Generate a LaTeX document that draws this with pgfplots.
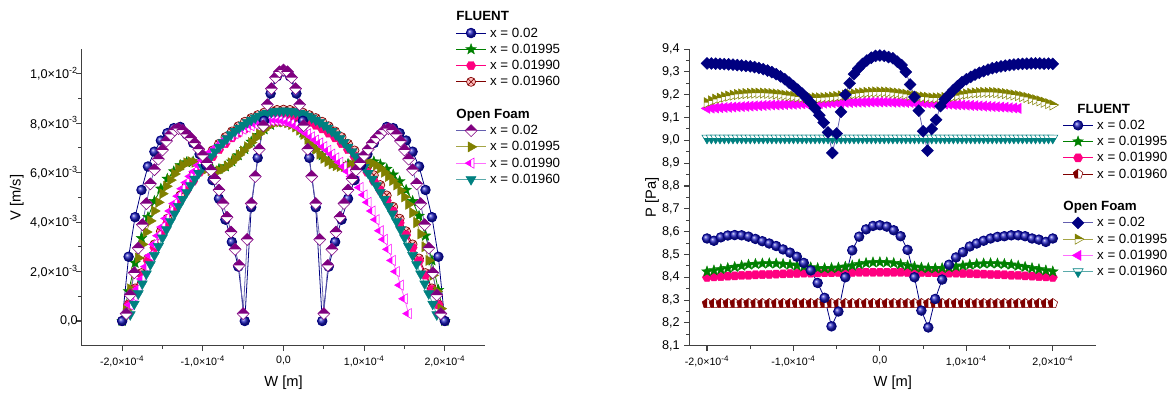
\documentclass[border=0pt]{standalone}
\usepackage{fontspec}
\setmainfont{Liberation Sans}
\usepackage{pgfplots}
\pgfplotsset{compat=1.18}
\usepackage{pgfplotstable}
\usetikzlibrary{plotmarks}

\definecolor{fnavy}{RGB}{0,0,128}
\definecolor{fball}{RGB}{30,30,190}
\definecolor{fgreen}{RGB}{0,128,0}
\definecolor{fpink}{RGB}{255,0,128}
\definecolor{fdred}{RGB}{128,0,0}
\definecolor{ofpurple}{RGB}{128,0,128}
\definecolor{ofline}{RGB}{100,95,175}
\definecolor{ofolive}{RGB}{128,128,0}
\definecolor{oliveline}{RGB}{165,165,70}
\definecolor{ofmag}{RGB}{255,0,255}
\definecolor{magline}{RGB}{255,110,255}
\definecolor{ofteal}{RGB}{0,128,128}
\definecolor{tealline}{RGB}{90,170,170}

% ---------- marks ----------
\pgfdeclareplotmark{fstar}{%
 \pgfpathmoveto{\pgfpointpolar{90}{\pgfplotmarksize}}%
 \pgfpathlineto{\pgfpointpolar{126}{0.42\pgfplotmarksize}}%
 \pgfpathlineto{\pgfpointpolar{162}{\pgfplotmarksize}}%
 \pgfpathlineto{\pgfpointpolar{198}{0.42\pgfplotmarksize}}%
 \pgfpathlineto{\pgfpointpolar{234}{\pgfplotmarksize}}%
 \pgfpathlineto{\pgfpointpolar{270}{0.42\pgfplotmarksize}}%
 \pgfpathlineto{\pgfpointpolar{306}{\pgfplotmarksize}}%
 \pgfpathlineto{\pgfpointpolar{342}{0.42\pgfplotmarksize}}%
 \pgfpathlineto{\pgfpointpolar{18}{\pgfplotmarksize}}%
 \pgfpathlineto{\pgfpointpolar{54}{0.42\pgfplotmarksize}}%
 \pgfpathclose\pgfusepathqfillstroke}
\pgfdeclareplotmark{hexa}{%
 \pgfpathmoveto{\pgfpointpolar{0}{\pgfplotmarksize}}%
 \pgfpathlineto{\pgfpointpolar{60}{\pgfplotmarksize}}%
 \pgfpathlineto{\pgfpointpolar{120}{\pgfplotmarksize}}%
 \pgfpathlineto{\pgfpointpolar{180}{\pgfplotmarksize}}%
 \pgfpathlineto{\pgfpointpolar{240}{\pgfplotmarksize}}%
 \pgfpathlineto{\pgfpointpolar{300}{\pgfplotmarksize}}%
 \pgfpathclose\pgfusepathqfillstroke}
\pgfdeclareplotmark{fdiam}{%
 \pgfpathmoveto{\pgfpoint{0pt}{\pgfplotmarksize}}%
 \pgfpathlineto{\pgfpoint{\pgfplotmarksize}{0pt}}%
 \pgfpathlineto{\pgfpoint{0pt}{-\pgfplotmarksize}}%
 \pgfpathlineto{\pgfpoint{-\pgfplotmarksize}{0pt}}%
 \pgfpathclose\pgfusepathqfillstroke}
\pgfdeclareplotmark{hdiamP}{%
 \pgfpathmoveto{\pgfpoint{0pt}{\pgfplotmarksize}}%
 \pgfpathlineto{\pgfpoint{\pgfplotmarksize}{0pt}}%
 \pgfpathlineto{\pgfpoint{0pt}{-\pgfplotmarksize}}%
 \pgfpathlineto{\pgfpoint{-\pgfplotmarksize}{0pt}}%
 \pgfpathclose\pgfsetfillcolor{white}\pgfusepath{fill}%
 \pgfpathmoveto{\pgfpoint{0pt}{\pgfplotmarksize}}%
 \pgfpathlineto{\pgfpoint{\pgfplotmarksize}{0pt}}%
 \pgfpathlineto{\pgfpoint{-\pgfplotmarksize}{0pt}}%
 \pgfpathclose\pgfsetfillcolor{ofpurple}\pgfusepath{fill}%
 \pgfpathmoveto{\pgfpoint{0pt}{\pgfplotmarksize}}%
 \pgfpathlineto{\pgfpoint{\pgfplotmarksize}{0pt}}%
 \pgfpathlineto{\pgfpoint{0pt}{-\pgfplotmarksize}}%
 \pgfpathlineto{\pgfpoint{-\pgfplotmarksize}{0pt}}%
 \pgfpathclose\pgfusepath{stroke}}
\pgfdeclareplotmark{triR}{%
 \pgfpathmoveto{\pgfpointpolar{0}{\pgfplotmarksize}}%
 \pgfpathlineto{\pgfpointpolar{120}{\pgfplotmarksize}}%
 \pgfpathlineto{\pgfpointpolar{240}{\pgfplotmarksize}}%
 \pgfpathclose\pgfusepathqfillstroke}
\pgfdeclareplotmark{triL}{%
 \pgfpathmoveto{\pgfpointpolar{180}{\pgfplotmarksize}}%
 \pgfpathlineto{\pgfpointpolar{300}{\pgfplotmarksize}}%
 \pgfpathlineto{\pgfpointpolar{60}{\pgfplotmarksize}}%
 \pgfpathclose\pgfusepathqfillstroke}
\pgfdeclareplotmark{triD}{%
 \pgfpathmoveto{\pgfpointpolar{270}{\pgfplotmarksize}}%
 \pgfpathlineto{\pgfpointpolar{30}{\pgfplotmarksize}}%
 \pgfpathlineto{\pgfpointpolar{150}{\pgfplotmarksize}}%
 \pgfpathclose\pgfusepathqfillstroke}
\pgfdeclareplotmark{htriR}{%
 \pgfpathmoveto{\pgfpointpolar{0}{\pgfplotmarksize}}%
 \pgfpathlineto{\pgfpointpolar{120}{\pgfplotmarksize}}%
 \pgfpathlineto{\pgfpointpolar{240}{\pgfplotmarksize}}%
 \pgfpathclose\pgfsetfillcolor{white}\pgfusepath{fill}%
 \pgfpathmoveto{\pgfpointpolar{0}{\pgfplotmarksize}}%
 \pgfpathlineto{\pgfpointpolar{120}{\pgfplotmarksize}}%
 \pgfpathlineto{\pgfpoint{-0.5\pgfplotmarksize}{0pt}}%
 \pgfpathclose\pgfsetfillcolor{ofolive}\pgfusepath{fill}%
 \pgfpathmoveto{\pgfpointpolar{0}{\pgfplotmarksize}}%
 \pgfpathlineto{\pgfpointpolar{120}{\pgfplotmarksize}}%
 \pgfpathlineto{\pgfpointpolar{240}{\pgfplotmarksize}}%
 \pgfpathclose\pgfusepath{stroke}}
\pgfdeclareplotmark{htriL}{%
 \pgfpathmoveto{\pgfpointpolar{180}{\pgfplotmarksize}}%
 \pgfpathlineto{\pgfpointpolar{300}{\pgfplotmarksize}}%
 \pgfpathlineto{\pgfpointpolar{60}{\pgfplotmarksize}}%
 \pgfpathclose\pgfsetfillcolor{white}\pgfusepath{fill}%
 \pgfpathmoveto{\pgfpointpolar{180}{\pgfplotmarksize}}%
 \pgfpathlineto{\pgfpoint{0pt}{-0.577\pgfplotmarksize}}%
 \pgfpathlineto{\pgfpoint{0pt}{0.577\pgfplotmarksize}}%
 \pgfpathclose\pgfsetfillcolor{ofmag}\pgfusepath{fill}%
 \pgfpathmoveto{\pgfpointpolar{180}{\pgfplotmarksize}}%
 \pgfpathlineto{\pgfpointpolar{300}{\pgfplotmarksize}}%
 \pgfpathlineto{\pgfpointpolar{60}{\pgfplotmarksize}}%
 \pgfpathclose\pgfusepath{stroke}}
\pgfdeclareplotmark{htriD}{%
 \pgfpathmoveto{\pgfpointpolar{270}{\pgfplotmarksize}}%
 \pgfpathlineto{\pgfpointpolar{30}{\pgfplotmarksize}}%
 \pgfpathlineto{\pgfpointpolar{150}{\pgfplotmarksize}}%
 \pgfpathclose\pgfsetfillcolor{white}\pgfusepath{fill}%
 \pgfpathmoveto{\pgfpointpolar{270}{\pgfplotmarksize}}%
 \pgfpathlineto{\pgfpoint{0.577\pgfplotmarksize}{0pt}}%
 \pgfpathlineto{\pgfpoint{-0.577\pgfplotmarksize}{0pt}}%
 \pgfpathclose\pgfsetfillcolor{ofteal}\pgfusepath{fill}%
 \pgfpathmoveto{\pgfpointpolar{270}{\pgfplotmarksize}}%
 \pgfpathlineto{\pgfpointpolar{30}{\pgfplotmarksize}}%
 \pgfpathlineto{\pgfpointpolar{150}{\pgfplotmarksize}}%
 \pgfpathclose\pgfusepath{stroke}}
\pgfdeclareplotmark{hpent}{%
 \pgfpathmoveto{\pgfpointpolar{90}{\pgfplotmarksize}}%
 \pgfpathlineto{\pgfpointpolar{162}{\pgfplotmarksize}}%
 \pgfpathlineto{\pgfpointpolar{234}{\pgfplotmarksize}}%
 \pgfpathlineto{\pgfpointpolar{306}{\pgfplotmarksize}}%
 \pgfpathlineto{\pgfpointpolar{18}{\pgfplotmarksize}}%
 \pgfpathclose\pgfsetfillcolor{white}\pgfusepath{fill}%
 \pgfpathmoveto{\pgfpointpolar{90}{\pgfplotmarksize}}%
 \pgfpathlineto{\pgfpointpolar{162}{\pgfplotmarksize}}%
 \pgfpathlineto{\pgfpointpolar{234}{\pgfplotmarksize}}%
 \pgfpathlineto{\pgfpoint{0pt}{-0.809\pgfplotmarksize}}%
 \pgfpathclose\pgfsetfillcolor{fdred}\pgfusepath{fill}%
 \pgfpathmoveto{\pgfpointpolar{90}{\pgfplotmarksize}}%
 \pgfpathlineto{\pgfpointpolar{162}{\pgfplotmarksize}}%
 \pgfpathlineto{\pgfpointpolar{234}{\pgfplotmarksize}}%
 \pgfpathlineto{\pgfpointpolar{306}{\pgfplotmarksize}}%
 \pgfpathlineto{\pgfpointpolar{18}{\pgfplotmarksize}}%
 \pgfpathclose\pgfusepath{stroke}}

\newcommand{\sci}[2]{#1×10\textsuperscript{#2}}

% ---------- data: W in 1e-4 m, V in 1e-3 m/s, P in Pa ----------
\pgfplotstableread{
W f02 f995 f990 f960
-2.00 0.0 0.0 0.0 0.0
-1.92 2.6 1.2 0.65 0.67
-1.84 4.2 2.35 1.27 1.32
-1.76 5.3 3.35 1.86 1.94
-1.68 6.25 4.2 2.43 2.53
-1.60 6.85 4.85 2.97 3.10
-1.52 7.3 5.35 3.48 3.63
-1.44 7.6 5.75 3.97 4.14
-1.36 7.8 6.05 4.44 4.62
-1.28 7.85 6.3 4.87 5.08
-1.20 7.55 6.42 5.28 5.50
-1.12 7.2 6.45 5.66 5.90
-1.04 6.75 6.38 6.02 6.26
-0.96 6.3 6.25 6.35 6.59
-0.88 5.7 6.15 6.65 6.90
-0.80 4.95 6.15 6.93 7.17
-0.72 4.1 6.25 7.18 7.44
-0.64 3.2 6.45 7.41 7.67
-0.56 2.2 6.7 7.60 7.88
-0.48 0.0 6.95 7.77 8.06
-0.40 4.6 7.25 7.92 8.21
-0.32 6.6 7.52 8.04 8.33
-0.24 8.1 7.75 8.13 8.43
-0.16 9.2 7.93 8.20 8.50
-0.08 9.9 8.04 8.24 8.54
0.00 10.1 8.07 8.25 8.55
0.08 9.9 8.03 8.24 8.54
0.16 9.2 7.88 8.20 8.50
0.24 8.1 7.62 8.13 8.43
0.32 6.6 7.3 8.04 8.33
0.40 4.6 6.98 7.92 8.21
0.48 0.0 6.7 7.77 8.06
0.56 2.2 6.5 7.60 7.88
0.64 3.2 6.38 7.41 7.67
0.72 4.1 6.32 7.18 7.44
0.80 4.95 6.35 6.93 7.17
0.88 5.7 6.4 6.65 6.90
0.96 6.3 6.45 6.35 6.59
1.04 6.75 6.48 6.02 6.26
1.12 7.2 6.45 5.66 5.90
1.20 7.55 6.33 5.28 5.50
1.28 7.85 6.15 4.87 5.08
1.36 7.8 5.92 4.44 4.62
1.44 7.6 5.65 3.97 4.14
1.52 7.3 5.3 3.48 3.63
1.60 6.85 4.85 2.97 3.10
1.68 6.25 4.25 2.43 2.53
1.76 5.3 3.45 1.86 1.94
1.84 4.2 2.45 1.27 1.32
1.92 2.6 1.25 0.65 0.67
2.00 0.0 0.0 0.0 0.0
}\flV

\pgfplotstableread{
W o02 o995 o990 o960
-2.00 nan nan nan nan
-1.95 0.3 0.45 0.3 nan
-1.90 1.05 1.3 0.65 0.26
-1.85 1.95 1.95 1.0 0.69
-1.80 2.95 2.55 1.3 1.11
-1.75 3.9 3.1 1.7 1.51
-1.70 4.75 3.6 2.2 1.91
-1.65 5.55 4.05 2.65 2.29
-1.60 6.12 4.45 3.1 2.66
-1.55 6.55 4.8 3.45 3.02
-1.50 6.92 5.15 3.8 3.37
-1.45 7.28 5.45 4.15 3.70
-1.40 7.55 5.7 4.45 4.03
-1.35 7.72 5.95 4.75 4.34
-1.30 7.78 6.15 5.05 4.64
-1.25 7.72 6.3 5.35 4.93
-1.20 7.55 6.4 5.6 5.21
-1.15 7.4 6.45 5.85 5.48
-1.10 7.2 6.42 6.05 5.74
-1.05 6.95 6.35 6.3 5.98
-1.00 6.7 6.25 6.5 6.22
-0.95 6.4 6.15 6.68 6.44
-0.90 6.1 6.08 6.83 6.65
-0.85 5.75 6.05 6.97 6.85
-0.80 5.3 6.08 7.1 7.04
-0.75 4.75 6.15 7.25 7.22
-0.70 4.2 6.27 7.37 7.38
-0.65 3.6 6.4 7.48 7.54
-0.60 2.9 6.55 7.58 7.68
-0.55 2.25 6.72 7.68 7.81
-0.50 0.3 6.88 7.76 7.93
-0.45 3.3 7.05 7.84 8.04
-0.40 4.75 7.22 7.9 8.13
-0.35 5.85 7.4 7.96 8.22
-0.30 6.95 7.57 8.01 8.29
-0.25 7.9 7.72 8.05 8.36
-0.20 8.75 7.85 8.08 8.41
-0.15 9.4 7.95 8.1 8.45
-0.10 9.85 8.02 8.11 8.48
-0.05 10.08 8.05 8.1 8.49
0.00 10.15 8.05 8.08 8.5
0.05 10.08 8.02 8.04 8.49
0.10 9.85 7.95 7.98 8.48
0.15 9.4 7.85 7.9 8.45
0.20 8.75 7.72 7.8 8.41
0.25 7.9 7.55 7.68 8.36
0.30 6.95 7.35 7.57 8.29
0.35 5.85 7.15 7.45 8.22
0.40 4.75 6.95 7.32 8.13
0.45 3.3 6.75 7.2 8.04
0.50 0.3 6.58 7.05 7.93
0.55 2.25 6.45 6.9 7.81
0.60 2.9 6.35 6.75 7.68
0.65 3.6 6.28 6.6 7.54
0.70 4.2 6.25 6.42 7.38
0.75 4.75 6.25 6.25 7.22
0.80 5.3 6.28 6.05 7.04
0.85 5.75 6.32 5.85 6.85
0.90 6.1 6.36 5.65 6.65
0.95 6.4 6.4 5.4 6.44
1.00 6.7 6.42 5.1 6.22
1.05 6.95 6.42 4.8 5.98
1.10 7.2 6.38 4.45 5.74
1.15 7.4 6.3 4.1 5.48
1.20 7.55 6.18 3.65 5.21
1.25 7.72 6.02 3.3 4.93
1.30 7.78 5.85 2.9 4.64
1.35 7.72 5.68 2.45 4.34
1.40 7.55 5.5 2.0 4.03
1.45 7.28 5.28 1.45 3.70
1.50 6.92 5.02 0.9 3.37
1.55 6.55 4.72 0.3 3.02
1.60 6.12 4.38 nan 2.66
1.65 5.55 3.98 nan 2.29
1.70 4.75 3.52 nan 1.91
1.75 3.9 3.0 nan 1.51
1.80 2.95 2.45 nan 1.11
1.85 1.95 1.85 nan 0.69
1.90 1.05 1.2 nan 0.26
1.95 0.3 0.5 nan nan
2.00 nan nan nan nan
}\ofV

\pgfplotstableread{
W f02 f995 f990 f960
-2.00 8.57 8.425 8.400 8.285
-1.92 8.56 8.430 8.402 8.285
-1.84 8.575 8.435 8.403 8.285
-1.76 8.583 8.440 8.405 8.285
-1.68 8.585 8.445 8.406 8.285
-1.60 8.584 8.450 8.408 8.285
-1.52 8.578 8.455 8.409 8.285
-1.44 8.568 8.458 8.411 8.285
-1.36 8.558 8.460 8.412 8.285
-1.28 8.548 8.461 8.413 8.285
-1.20 8.537 8.460 8.414 8.285
-1.12 8.522 8.458 8.415 8.285
-1.04 8.508 8.455 8.416 8.285
-0.96 8.49 8.451 8.417 8.285
-0.88 8.463 8.447 8.418 8.285
-0.80 8.43 8.443 8.418 8.285
-0.72 8.375 8.440 8.419 8.285
-0.64 8.31 8.439 8.420 8.285
-0.56 8.185 8.440 8.420 8.285
-0.48 8.25 8.442 8.421 8.285
-0.40 8.40 8.446 8.421 8.285
-0.32 8.518 8.451 8.421 8.285
-0.24 8.578 8.457 8.422 8.285
-0.16 8.61 8.462 8.422 8.285
-0.08 8.625 8.465 8.422 8.285
0.00 8.628 8.466 8.422 8.285
0.08 8.622 8.465 8.422 8.285
0.16 8.606 8.462 8.422 8.285
0.24 8.58 8.457 8.422 8.285
0.32 8.52 8.451 8.421 8.285
0.40 8.40 8.446 8.421 8.285
0.48 8.254 8.442 8.421 8.285
0.56 8.18 8.440 8.420 8.285
0.64 8.305 8.439 8.420 8.285
0.72 8.39 8.440 8.419 8.285
0.80 8.455 8.443 8.418 8.285
0.88 8.487 8.447 8.418 8.285
0.96 8.51 8.451 8.417 8.285
1.04 8.535 8.455 8.416 8.285
1.12 8.548 8.458 8.415 8.285
1.20 8.56 8.460 8.414 8.285
1.28 8.57 8.461 8.413 8.285
1.36 8.577 8.460 8.412 8.285
1.44 8.58 8.458 8.411 8.285
1.52 8.584 8.455 8.409 8.285
1.60 8.584 8.450 8.408 8.285
1.68 8.58 8.445 8.406 8.285
1.76 8.57 8.440 8.405 8.285
1.84 8.565 8.435 8.403 8.285
1.92 8.555 8.430 8.402 8.285
2.00 8.57 8.425 8.400 8.285
}\flP

\pgfplotstableread{
W o02 o995 o990 o960
-2.00 9.337 9.165 9.140 9.01
-1.95 9.337 9.173 9.141 9.01
-1.90 9.336 9.180 9.142 9.01
-1.85 9.335 9.185 9.143 9.01
-1.80 9.334 9.190 9.144 9.01
-1.75 9.333 9.194 9.145 9.01
-1.70 9.332 9.198 9.146 9.01
-1.65 9.330 9.201 9.147 9.01
-1.60 9.328 9.203 9.148 9.01
-1.55 9.326 9.205 9.149 9.01
-1.50 9.324 9.206 9.150 9.01
-1.45 9.321 9.207 9.151 9.01
-1.40 9.317 9.207 9.152 9.01
-1.35 9.312 9.207 9.153 9.01
-1.30 9.306 9.206 9.154 9.01
-1.25 9.299 9.205 9.155 9.01
-1.20 9.290 9.203 9.155 9.01
-1.15 9.280 9.201 9.156 9.01
-1.10 9.268 9.198 9.157 9.01
-1.05 9.253 9.196 9.158 9.01
-1.00 9.238 9.193 9.158 9.01
-0.95 9.222 9.191 9.159 9.01
-0.90 9.205 9.189 9.160 9.01
-0.85 9.186 9.187 9.160 9.01
-0.80 9.165 9.186 9.161 9.01
-0.75 9.140 9.186 9.162 9.01
-0.70 9.110 9.186 9.162 9.01
-0.65 9.078 9.187 9.163 9.01
-0.60 9.035 9.188 9.164 9.01
-0.55 8.945 9.190 9.164 9.01
-0.50 9.030 9.192 9.165 9.01
-0.45 9.125 9.195 9.165 9.01
-0.40 9.200 9.198 9.166 9.01
-0.35 9.250 9.201 9.166 9.01
-0.30 9.290 9.204 9.167 9.01
-0.25 9.315 9.206 9.167 9.01
-0.20 9.335 9.208 9.167 9.01
-0.15 9.350 9.210 9.168 9.01
-0.10 9.362 9.211 9.168 9.01
-0.05 9.370 9.212 9.168 9.01
0.00 9.372 9.212 9.168 9.01
0.05 9.370 9.212 9.168 9.01
0.10 9.365 9.211 9.168 9.01
0.15 9.360 9.209 9.167 9.01
0.20 9.345 9.207 9.167 9.01
0.25 9.330 9.205 9.167 9.01
0.30 9.300 9.202 9.166 9.01
0.35 9.245 9.198 9.166 9.01
0.40 9.190 9.195 9.165 9.01
0.45 9.130 9.192 9.165 9.01
0.50 9.040 9.190 9.164 9.01
0.55 8.955 9.188 9.163 9.01
0.60 9.050 9.186 9.162 9.01
0.65 9.090 9.186 9.161 9.01
0.70 9.150 9.186 9.160 9.01
0.75 9.180 9.188 9.159 9.01
0.80 9.200 9.190 9.158 9.01
0.85 9.220 9.193 9.157 9.01
0.90 9.238 9.196 9.156 9.01
0.95 9.255 9.200 9.155 9.01
1.00 9.268 9.203 9.154 9.01
1.05 9.278 9.206 9.153 9.01
1.10 9.288 9.208 9.152 9.01
1.15 9.296 9.209 9.151 9.01
1.20 9.303 9.210 9.150 9.01
1.25 9.310 9.210 9.149 9.01
1.30 9.316 9.210 9.148 9.01
1.35 9.320 9.209 9.147 9.01
1.40 9.324 9.207 9.146 9.01
1.45 9.327 9.205 9.145 9.01
1.50 9.330 9.202 9.143 9.01
1.55 9.332 9.199 9.142 9.01
1.60 9.334 9.196 9.140 9.01
1.65 9.335 9.192 nan 9.01
1.70 9.336 9.188 nan 9.01
1.75 9.337 9.183 nan 9.01
1.80 9.337 9.178 nan 9.01
1.85 9.337 9.173 nan 9.01
1.90 9.336 9.167 nan 9.01
1.95 9.336 9.161 nan 9.01
2.00 9.335 9.155 nan 9.01
}\ofP

\pgfplotsset{
  orig/.style={
    scale only axis, anchor=south west,
    axis x line*=bottom, axis y line*=left,
    axis line style={-, line width=0.9pt, black!75},
    tick align=outside, major tick length=4pt, minor tick length=2.5pt,
    tick style={line width=0.8pt, black!75},
    minor x tick num=1, minor y tick num=1,
    xticklabel style={font=\fontsize{8}{10}\selectfont},
    yticklabel style={font=\fontsize{9.5}{11}\selectfont},
    label style={font=\fontsize{11}{13}\selectfont},
    legend cell align=left,
    legend image code/.code={\draw[mark repeat=2,mark phase=2] plot coordinates {(0pt,0pt) (11pt,0pt) (22pt,0pt)};},
    legend style={draw=none, fill=none, inner sep=0pt, outer sep=0pt,
      row sep=2.2pt, column sep=3pt, font=\fontsize{10}{12}\selectfont,
      nodes={inner sep=0pt, text height=8pt, text depth=2pt}},
  },
  sFA/.style={color=fnavy, line width=0.6pt, mark=ball, mark size=3.6pt, mark options={ball color=fball}},
  sFB/.style={color=fgreen, line width=0.6pt, mark=fstar, mark size=4.2pt, mark options={fill=fgreen, draw=fgreen, line width=0.3pt}},
  sFC/.style={color=fpink, line width=0.6pt, mark=hexa, mark size=3.5pt, mark options={fill=fpink, draw=fpink, line width=0.3pt}},
  sFDl/.style={color=fdred, line width=0.6pt, mark=otimes*, mark size=3.4pt, mark options={fill=red!25, draw=fdred, line width=0.5pt}},
  sFDr/.style={color=fdred, line width=0.6pt, mark=hpent, mark size=3.8pt, mark options={draw=fdred, line width=0.4pt}},
  sOAl/.style={color=ofline, line width=0.6pt, mark=hdiamP, mark size=4.5pt, mark options={draw=ofpurple, line width=0.4pt}},
  sOAr/.style={color=ofline, line width=0.6pt, mark=fdiam, mark size=4.5pt, mark options={fill=fnavy, draw=fnavy, line width=0.3pt}},
  sOBl/.style={color=oliveline, line width=0.6pt, mark=triR, mark size=4.4pt, mark options={fill=ofolive, draw=ofolive, line width=0.3pt}},
  sOBr/.style={color=oliveline, line width=0.6pt, mark=htriR, mark size=4.4pt, mark options={draw=ofolive, line width=0.4pt}},
  sOCl/.style={color=magline, line width=0.6pt, mark=htriL, mark size=4.4pt, mark options={draw=ofmag, line width=0.4pt}},
  sOCr/.style={color=magline, line width=0.6pt, mark=triL, mark size=4.4pt, mark options={fill=ofmag, draw=ofmag, line width=0.3pt}},
  sODl/.style={color=tealline, line width=0.6pt, mark=triD, mark size=4.4pt, mark options={fill=ofteal, draw=ofteal, line width=0.3pt}},
  sODr/.style={color=tealline, line width=0.6pt, mark=htriD, mark size=4.4pt, mark options={draw=ofteal, line width=0.4pt}},
}

\begin{document}
\begin{tikzpicture}
\path[use as bounding box] (0,0) rectangle (879pt,295.5pt);

% ================= left: V =================
\begin{axis}[orig,
  at={(61.35pt,36.2pt)}, width=302.55pt, height=222.5pt,
  xmin=-2.5, xmax=2.5, ymin=-1, ymax=11,
  xtick={-2,-1,0,1,2},
  xticklabels={\sci{-2,0}{-4},\sci{-1,0}{-4},{0,0},\sci{1,0}{-4},\sci{2,0}{-4}},
  ytick={0,2,4,6,8,10},
  yticklabels={{0,0},\sci{2,0}{-3},\sci{4,0}{-3},\sci{6,0}{-3},\sci{8,0}{-3},\sci{1,0}{-2}},
  yticklabel style={xshift=4.5pt},
  xlabel={W [m]}, ylabel={V [m/s]},
  xlabel style={at={(axis description cs:0.5,-0.1258)}, anchor=center},
  ylabel style={at={(axis description cs:-0.161,0.5)}, anchor=center},
  legend style={at={(0.9276,1.1314)}, anchor=north west},
]
\addplot[sFDl, forget plot] table[x=W, y=f960] {\flV};
\addplot[sFC, forget plot] table[x=W, y=f990] {\flV};
\addplot[sFB, forget plot] table[x=W, y=f995] {\flV};
\addplot[sOBl, forget plot] table[x=W, y=o995] {\ofV};
\addplot[sOCl, forget plot] table[x=W, y=o990] {\ofV};
\addplot[sODl, forget plot] table[x=W, y=o960] {\ofV};
\addplot[sFA, forget plot] table[x=W, y=f02] {\flV};
\addplot[sOAl, forget plot] table[x=W, y=o02] {\ofV};

\addlegendimage{empty legend}\addlegendentry{\hspace*{-25.3pt}\bfseries FLUENT}
\addlegendimage{sFA}\addlegendentry{x = 0.02}
\addlegendimage{sFB}\addlegendentry{x = 0.01995}
\addlegendimage{sFC}\addlegendentry{x = 0.01990}
\addlegendimage{sFDl}\addlegendentry{x = 0.01960}
\addlegendimage{empty legend}\addlegendentry{}
\addlegendimage{empty legend}\addlegendentry{\hspace*{-25.3pt}\bfseries Open Foam}
\addlegendimage{sOAl}\addlegendentry{x = 0.02}
\addlegendimage{sOBl}\addlegendentry{x = 0.01995}
\addlegendimage{sOCl}\addlegendentry{x = 0.01990}
\addlegendimage{sODl}\addlegendentry{x = 0.01960}
\end{axis}

% ================= right: P =================
\begin{axis}[orig,
  at={(517.3pt,36.2pt)}, width=304.7pt, height=222.5pt,
  xmin=-2.2, xmax=2.5, ymin=8.1, ymax=9.4,
  xtick={-2,-1,0,1,2},
  xticklabels={\sci{-2,0}{-4},\sci{-1,0}{-4},{0,0},\sci{1,0}{-4},\sci{2,0}{-4}},
  ytick={8.1,8.2,8.3,8.4,8.5,8.6,8.7,8.8,8.9,9.0,9.1,9.2,9.3,9.4},
  yticklabels={{8,1},{8,2},{8,3},{8,4},{8,5},{8,6},{8,7},{8,8},{8,9},{9,0},{9,1},{9,2},{9,3},{9,4}},
  xlabel={W [m]}, ylabel={P [Pa]},
  xlabel style={at={(axis description cs:0.5,-0.1258)}, anchor=center},
  ylabel style={at={(axis description cs:-0.0929,0.5)}, anchor=center},
  legend style={at={(0.9188,0.8204)}, anchor=north west},
]
\addplot[sFDr, forget plot] table[x=W, y=f960] {\flP};
\addplot[sFC, forget plot] table[x=W, y=f990] {\flP};
\addplot[sFB, forget plot] table[x=W, y=f995] {\flP};
\addplot[sODr, forget plot] table[x=W, y=o960] {\ofP};
\addplot[sOCr, forget plot] table[x=W, y=o990] {\ofP};
\addplot[sOBr, forget plot] table[x=W, y=o995] {\ofP};
\addplot[sFA, forget plot] table[x=W, y=f02] {\flP};
\addplot[sOAr, forget plot] table[x=W, y=o02] {\ofP};

\addlegendimage{empty legend}\addlegendentry{\hspace*{-14.8pt}\bfseries FLUENT}
\addlegendimage{sFA}\addlegendentry{x = 0.02}
\addlegendimage{sFB}\addlegendentry{x = 0.01995}
\addlegendimage{sFC}\addlegendentry{x = 0.01990}
\addlegendimage{sFDr}\addlegendentry{x = 0.01960}
\addlegendimage{empty legend}\addlegendentry{}
\addlegendimage{empty legend}\addlegendentry{\hspace*{-25.3pt}\bfseries Open Foam}
\addlegendimage{sOAr}\addlegendentry{x = 0.02}
\addlegendimage{sOBr}\addlegendentry{x = 0.01995}
\addlegendimage{sOCr}\addlegendentry{x = 0.01990}
\addlegendimage{sODr}\addlegendentry{x = 0.01960}
\end{axis}
\end{tikzpicture}
\end{document}
